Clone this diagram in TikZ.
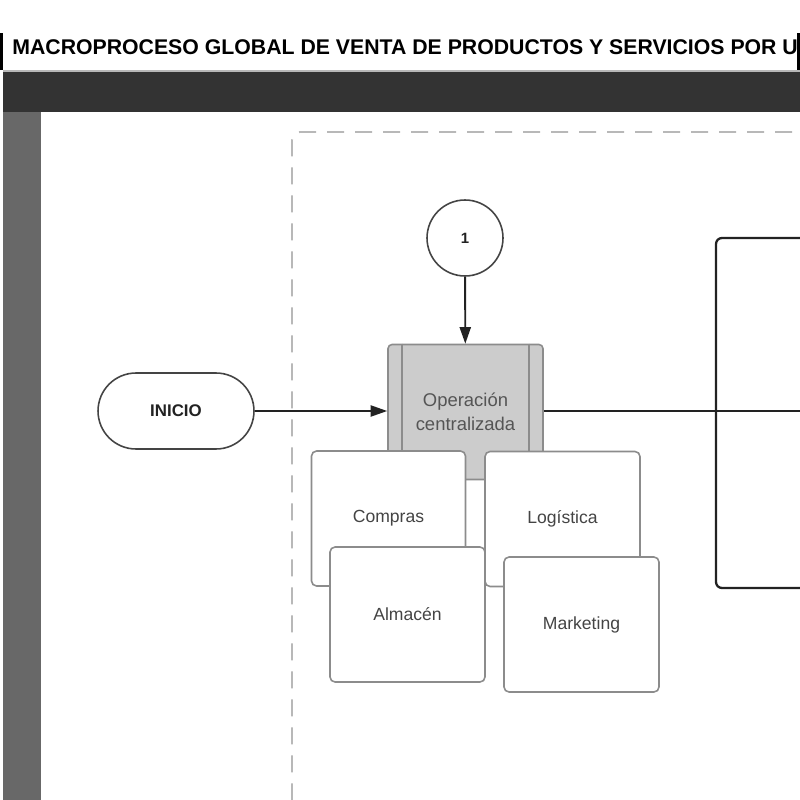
\documentclass[tikz,border=0pt]{standalone}
\usepackage{fontspec}
\setmainfont{Liberation Sans}
\usetikzlibrary{arrows.meta,positioning}
\definecolor{Ink}{HTML}{222222}
\definecolor{Muted}{HTML}{444444}
\definecolor{Band}{HTML}{333333}
\definecolor{Strip}{HTML}{686868}
\definecolor{Frame}{HTML}{8C8C8C}
\definecolor{Dash}{HTML}{B8B8B8}
\definecolor{Proc}{HTML}{CCCCCC}
\definecolor{ProcText}{HTML}{555555}
\tikzset{
  card/.style={draw=Frame,line width=0.9pt,rounded corners=0.1cm,fill=white,minimum width=3.1cm,minimum height=2.7cm,align=center,text=Muted,font=\fontsize{10}{12}\selectfont},
  procbox/.style={draw=Frame,line width=0.9pt,rounded corners=0.08cm,fill=Proc,minimum width=3.1cm,minimum height=2.7cm,align=center,text=ProcText,font=\fontsize{10.5}{13.5}\selectfont},
  startbox/.style={draw=Muted,line width=0.9pt,rounded corners=0.76cm,fill=white,minimum width=3.12cm,minimum height=1.52cm,text=Ink,font=\bfseries\fontsize{9.6}{11}\selectfont},
  connector/.style={circle,draw=Muted,line width=0.9pt,fill=white,minimum size=1.52cm,inner sep=0pt,text=Ink,font=\bfseries\fontsize{8.5}{10}\selectfont},
  arrow/.style={-{Triangle[length=0.33cm,width=0.22cm]},line width=1.1pt,draw=Ink},
  link/.style={line width=1.3pt,draw=Ink}
}
\begin{document}
\begin{tikzpicture}[x=0.02cm,y=-0.02cm]
\clip (0,0) rectangle (800,800);
\fill[white] (0,0) rectangle (800,800);
% title and lane header
\node[anchor=base west,inner sep=0pt,font=\bfseries\fontsize{12.1}{14}\selectfont] (title) at (12,55) {MACROPROCESO GLOBAL DE VENTA DE PRODUCTOS Y SERVICIOS POR U};
\fill[black] (0,33) rectangle (2.5,70); \fill[black] (797,33) rectangle (800,70);
\draw[Dash,line width=0.6pt] (3,71) -- (800,71);
\fill[Band] (3,72) rectangle (800,112);
\fill[Strip] (3,112) rectangle (41,800);
\draw[Dash,line width=1.1pt,dash pattern=on 0.34cm off 0.22cm,rounded corners=0.16cm] (820,132) -- (292,132) -- (292,820);
% nodes
\node[connector] (uno) at (465,238) {1};
\node[startbox] (inicio) at (176,411) {INICIO};
\node[procbox] (opc) at (465.5,412) {Operación\\centralizada};
\draw[Frame,line width=0.9pt] ([xshift=0.3cm]opc.north west) -- ([xshift=0.3cm]opc.south west);
\draw[Frame,line width=0.9pt] ([xshift=-0.3cm]opc.north east) -- ([xshift=-0.3cm]opc.south east);
\node[card,minimum width=3.08cm] (compras) at (388.5,518.5) {Compras};
\node[card] (logistica) at (562.5,519) {Logística};
\node[card] (almacen) at (407.5,614.5) {Almacén};
\node[card] (marketing) at (581.5,624.5) {Marketing};
% connectors
\coordinate (junta) at (716,411);
\coordinate (arriba) at (716,238);
\coordinate (abajo) at (716,588);
\draw[arrow] (uno) -- (opc);
\draw[arrow] (inicio) -- (opc.west |- inicio);
\draw[link] (opc.east |- junta) -- (junta) -- (800,411);
\draw[link,rounded corners=0.12cm] (800,238) -- (arriba) -- (abajo) -- (800,588);
\end{tikzpicture}
\end{document}
